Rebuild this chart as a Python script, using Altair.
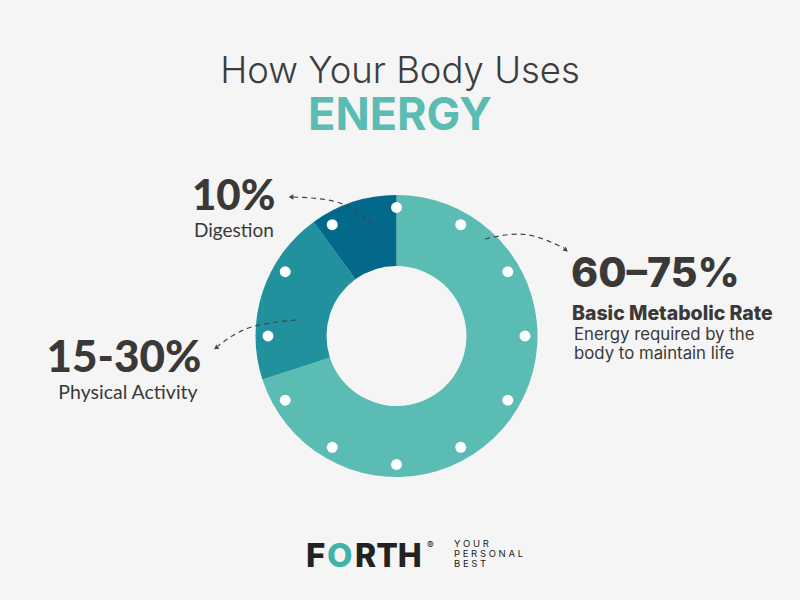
import altair as alt
import pandas as pd

# ---------------- data ----------------
segments = ["Basic Metabolic Rate", "Physical Activity", "Digestion"]
shares = [70, 20, 10]
seg_colors = ["#5bbcb3", "#22919e", "#03698a"]

dot_angles = [0, 30, 60, 90, 120, 150, 180, 210, 240, 270, 300, 330]

title_lines = ["How Your Body Uses", "ENERGY"]
pct_labels = ["60–75%", "15-30%", "10%"]
bmr_desc = ["Energy required by the", "body to maintain life"]
logo_parts = ["F", "O", "RTH", "®"]
tagline = ["Y O U R", "P E R S O N A L", "B E S T"]

# ---------------- layout (annotation geometry) ----------------
CX, CY = 396.5, 336
R_OUT, R_IN, R_DOT = 141, 70, 128.5
DARK = "#3b3938"
TEAL = "#5bbcb3"
BG = "#f5f5f5"

arrow_paths = {
    "dig": [(372, 224), (340, 203), (293, 197)],
    "bmr": [(485, 239), (525, 234.5), (564, 248)],
    "pa": [(296, 320), (250, 327.5), (218, 346)],
}
arrow_heads = [("dig", 291, 197, "triangle-left", 0),
               ("bmr", 566, 250, "triangle-right", 38),
               ("pa", 216, 348, "triangle-left", 325)]

X = lambda f: alt.X(f, scale=None, axis=None)
Y = lambda f: alt.Y(f, scale=None, axis=None)

# ---------------- donut ----------------
donut_df = pd.DataFrame({"segment": segments, "share": shares, "ord": [0, 1, 2]})
donut = alt.Chart(donut_df).mark_arc(outerRadius=R_OUT, innerRadius=R_IN).encode(
    theta=alt.Theta("share:Q", stack=True),
    order=alt.Order("ord:Q"),
    color=alt.Color("segment:N", scale=alt.Scale(domain=segments, range=seg_colors), legend=None),
    x=alt.value(CX),
    y=alt.value(CY),
)

dots_df = pd.DataFrame({"angle": dot_angles})
dots = alt.Chart(dots_df).transform_calculate(
    px=f"{CX} + {R_DOT} * sin(datum.angle * PI / 180)",
    py=f"{CY} - {R_DOT} * cos(datum.angle * PI / 180)",
).mark_circle(size=120, color="white", opacity=1).encode(x=X("px:Q"), y=Y("py:Q"))

# ---------------- arrows ----------------
rows = []
for k, pts in arrow_paths.items():
    for i, (px, py) in enumerate(pts):
        rows.append({"arrow": k, "seq": i, "px": px, "py": py})
arrows = alt.Chart(pd.DataFrame(rows)).mark_line(
    strokeDash=[5, 4], strokeWidth=1.2, color="#444444", interpolate="natural"
).encode(x=X("px:Q"), y=Y("py:Q"), detail="arrow:N", order="seq:Q")

heads = []
for k, px, py, shp, ang in arrow_heads:
    heads.append(
        alt.Chart(alt.Data(values=[{"px": px, "py": py}])).mark_point(
            shape=shp, angle=ang, size=28, filled=True, color="#444444", opacity=1
        ).encode(x=X("px:Q"), y=Y("py:Q"))
    )

# ---------------- text ----------------
def txt(s, x, y, size, color=DARK, weight="normal", font="Inter", align="left"):
    return alt.Chart(alt.Data(values=[{"t": s}])).mark_text(
        x=x, y=y, fontSize=size, font=font, fontWeight=weight, color=color,
        align=align, baseline="alphabetic"
    ).encode(text="t:N")

texts = [
    txt(title_lines[0], 400, 83, 36.5, color="#3d3d3d", weight=300, align="center"),
    txt(title_lines[1], 400, 130, 45, color=TEAL, weight=700, align="center"),
    txt(pct_labels[0], 571, 287, 41, weight=800),
    txt(segments[0], 572, 320, 19.5, weight=800),
    txt(bmr_desc[0], 574, 340, 16.8),
    txt(bmr_desc[1], 574, 359, 16.8),
    txt(pct_labels[1], 124, 372, 44, weight=900, font="Lato", align="center"),
    txt(segments[1], 128, 399, 19.5, font="Lato", align="center"),
    txt(pct_labels[2], 192, 210, 42, weight=900, font="Lato"),
    txt(segments[2], 194, 237, 19, font="Lato"),
    # logo
    txt(logo_parts[0], 306, 567, 33, color="#222222", weight=800),
    txt(logo_parts[1], 327, 567, 33, color="#3fb3a8", weight=800),
    txt(logo_parts[2], 355, 567, 32, color="#222222", weight=800),
    txt(logo_parts[3], 427, 549, 10, color="#222222"),
    txt(tagline[0], 454, 547, 9.5, color="#222222"),
    txt(tagline[1], 454, 557, 9.5, color="#222222"),
    txt(tagline[2], 454, 567, 9.5, color="#222222"),
]

chart = alt.layer(donut, dots, arrows, *heads, *texts).properties(
    width=800, height=600, background=BG, padding=0,
    autosize=alt.AutoSizeParams(type="none"),
).configure_view(stroke=None)

chart.save("out.html", embed_options={"renderer": "svg", "actions": False})
